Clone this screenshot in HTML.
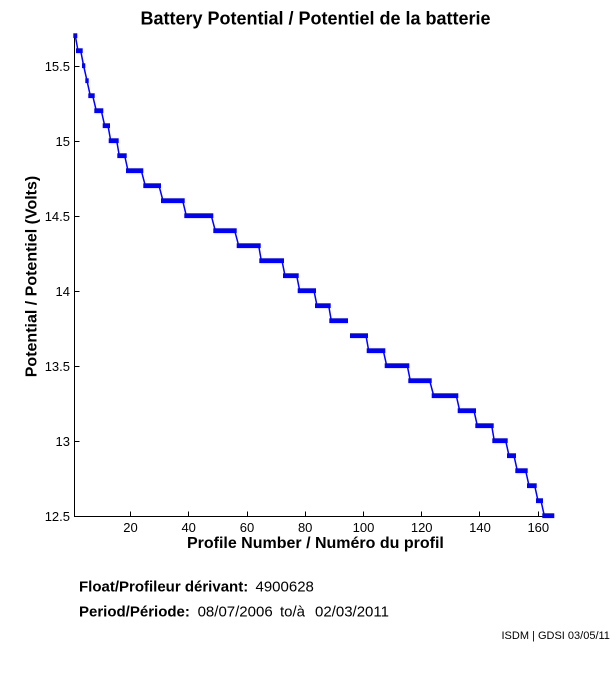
<!DOCTYPE html>
<html><head><meta charset="utf-8"><style>
html,body{margin:0;padding:0;background:#fff;}
svg{display:block;}
text{font-family:"Liberation Sans",Arial,sans-serif;fill:#000;}
</style></head><body>
<svg width="611" height="675" viewBox="0 0 611 675" xmlns="http://www.w3.org/2000/svg">
<rect x="0" y="0" width="611" height="675" fill="#fff"/>
<text x="315.5" y="24.5" font-size="18" font-weight="bold" text-anchor="middle">Battery Potential / Potentiel de la batterie</text>

<!-- axes -->
<g stroke="#000" stroke-width="1" fill="none" shape-rendering="crispEdges">
<line x1="74.5" y1="36" x2="74.5" y2="517"/>
<line x1="74" y1="516.5" x2="554" y2="516.5"/>
<line x1="74.5" y1="441.5" x2="79.5" y2="441.5"/>
<line x1="74.5" y1="366.5" x2="79.5" y2="366.5"/>
<line x1="74.5" y1="291.5" x2="79.5" y2="291.5"/>
<line x1="74.5" y1="216.5" x2="79.5" y2="216.5"/>
<line x1="74.5" y1="141.5" x2="79.5" y2="141.5"/>
<line x1="74.5" y1="66.5" x2="79.5" y2="66.5"/>
<line x1="130.5" y1="516.5" x2="130.5" y2="511.5"/>
<line x1="188.5" y1="516.5" x2="188.5" y2="511.5"/>
<line x1="247.5" y1="516.5" x2="247.5" y2="511.5"/>
<line x1="305.5" y1="516.5" x2="305.5" y2="511.5"/>
<line x1="363.5" y1="516.5" x2="363.5" y2="511.5"/>
<line x1="421.5" y1="516.5" x2="421.5" y2="511.5"/>
<line x1="479.5" y1="516.5" x2="479.5" y2="511.5"/>
<line x1="538.5" y1="516.5" x2="538.5" y2="511.5"/>
</g>

<g font-size="13" text-anchor="end">
<text x="70" y="521">12.5</text>
<text x="70" y="446">13</text>
<text x="70" y="371">13.5</text>
<text x="70" y="296">14</text>
<text x="70" y="221">14.5</text>
<text x="70" y="146">15</text>
<text x="70" y="71">15.5</text>
</g>
<g font-size="13" text-anchor="middle">
<text x="130.5" y="532">20</text>
<text x="188.7" y="532">40</text>
<text x="247" y="532">60</text>
<text x="305.2" y="532">80</text>
<text x="363.5" y="532">100</text>
<text x="421.7" y="532">120</text>
<text x="480" y="532">140</text>
<text x="538.3" y="532">160</text>
</g>

<text x="315.4" y="548" font-size="16" font-weight="bold" text-anchor="middle">Profile Number / Numéro du profil</text>
<text transform="translate(36.5,276.5) rotate(-90)" font-size="16" font-weight="bold" text-anchor="middle">Potential / Potentiel (Volts)</text>

<g fill="none" stroke="#0000ff" stroke-width="1.5">
<path d="M75.3,35.7 L78,50.7 L80.7,50.7 L83.6,65.7 L87,80.7 L90.3,95.7 L92.7,95.7 L96.3,110.7 L101.3,110.7 L104.7,125.7 L108,125.7 L110.7,140.7 L116.7,140.7 L119.3,155.7 L124.7,155.7 L128,170.7 L141.3,170.7 L145.3,185.7 L159,185.7 L163,200.7 L182.7,200.7 L186.3,215.7 L211.3,215.7 L215.3,230.7 L234.7,230.7 L238.7,245.7 L258.7,245.7 L261.3,260.7 L282,260.7 L285,275.7 L296.7,275.7 L299.7,290.7 L314,290.7 L317,305.7 L328.7,305.7 L331.3,320.7 L346,320.7"/>
<path d="M352,335.7 L366,335.7 L368.7,350.7 L383.3,350.7 L386.7,365.7 L407.3,365.7 L410.3,380.7 L429.7,380.7 L433.7,395.7 L456.3,395.7 L459.7,410.7 L474,410.7 L477.3,425.7 L491.7,425.7 L494.3,440.7 L505.7,440.7 L509,455.7 L514,455.7 L517.3,470.7 L525.7,470.7 L529,485.7 L534.7,485.7 L538,500.7 L541,500.7 L544.3,515.7 L552.3,515.7"/>
</g>
<g fill="#0000ff">
<rect x="73.3" y="33.3" width="4" height="4.8"/>
<rect x="76" y="48.3" width="6.7" height="4.8"/>
<rect x="82" y="63.3" width="3.3" height="4.8"/>
<rect x="85.3" y="78.3" width="3.4" height="4.8"/>
<rect x="88.3" y="93.3" width="6.4" height="4.8"/>
<rect x="94.3" y="108.3" width="9" height="4.8"/>
<rect x="102.7" y="123.3" width="7.3" height="4.8"/>
<rect x="108.7" y="138.3" width="10" height="4.8"/>
<rect x="117.3" y="153.3" width="9.4" height="4.8"/>
<rect x="126" y="168.3" width="17.3" height="4.8"/>
<rect x="143.3" y="183.3" width="17.7" height="4.8"/>
<rect x="161" y="198.3" width="23.7" height="4.8"/>
<rect x="184.3" y="213.3" width="29" height="4.8"/>
<rect x="213.3" y="228.3" width="23.4" height="4.8"/>
<rect x="236.7" y="243.3" width="24" height="4.8"/>
<rect x="259.3" y="258.3" width="24.7" height="4.8"/>
<rect x="283" y="273.3" width="15.7" height="4.8"/>
<rect x="297.7" y="288.3" width="18.3" height="4.8"/>
<rect x="315" y="303.3" width="15.7" height="4.8"/>
<rect x="329.3" y="318.3" width="18.7" height="4.8"/>
<rect x="350" y="333.3" width="18" height="4.8"/>
<rect x="366.7" y="348.3" width="18.6" height="4.8"/>
<rect x="384.7" y="363.3" width="24.6" height="4.8"/>
<rect x="408.3" y="378.3" width="23.4" height="4.8"/>
<rect x="431.7" y="393.3" width="26.6" height="4.8"/>
<rect x="457.7" y="408.3" width="18.3" height="4.8"/>
<rect x="475.3" y="423.3" width="18.4" height="4.8"/>
<rect x="492.3" y="438.3" width="15.4" height="4.8"/>
<rect x="507" y="453.3" width="9" height="4.8"/>
<rect x="515.3" y="468.3" width="12.4" height="4.8"/>
<rect x="527" y="483.3" width="9.7" height="4.8"/>
<rect x="536" y="498.3" width="7" height="4.8"/>
<rect x="542.3" y="513.3" width="12" height="4.8"/>
</g>

<text x="79" y="591.7" font-size="15" font-weight="bold">Float/Profileur dérivant:</text>
<text x="255.5" y="591.7" font-size="15">4900628</text>
<text x="79" y="616.5" font-size="15" font-weight="bold">Period/Période:</text>
<text x="197.6" y="616.5" font-size="15">08/07/2006</text>
<text x="280" y="616.5" font-size="15">to/à</text>
<text x="315" y="616.5" font-size="15">02/03/2011</text>
<text x="501.5" y="639" font-size="11">ISDM | GDSI 03/05/11</text>
</svg>
</body></html>
